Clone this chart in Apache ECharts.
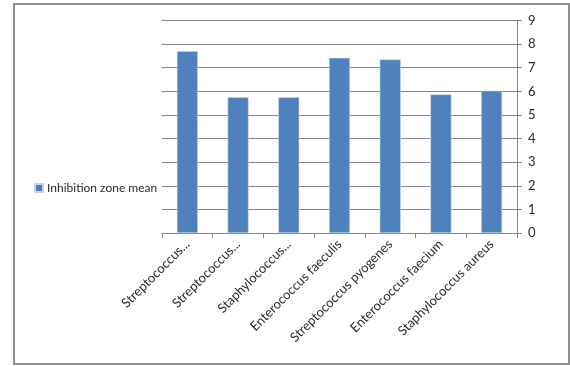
<!DOCTYPE html>
<html>
<head>
<meta charset="utf-8">
<script src="https://cdn.jsdelivr.net/npm/echarts@6/dist/echarts.min.js"></script>
<style>html,body{margin:0;padding:0;background:#fff}#c{width:570px;height:366px}</style>
</head>
<body>
<div id="c"></div>
<script>
const categories = ["Streptococcus...", "Streptococcus...", "Staphylococcus...", "Enterococcus faeculis", "Streptococcus pyogenes", "Enterococcus faecium", "Staphylococcus aureus"];
const seriesName = "Inhibition zone mean";
const values = [7.7, 5.75, 5.75, 7.42, 7.35, 5.87, 6.03];
const yTicks = [0, 9, 1];

const chart = echarts.init(document.getElementById('c'), null, {renderer: 'canvas'});
const font = 'Lato, "Open Sans", sans-serif';
chart.setOption({
  animation: false,
  graphic: [{
    type: 'rect', left: 13, top: 3, z: -1,
    shape: {width: 555, height: 360},
    style: {fill: '#fff', stroke: '#8e8e8e', lineWidth: 2}
  }],
  legend: {
    left: 29, top: 177, orient: 'vertical',
    itemWidth: 8, itemHeight: 8, itemGap: 4,
    icon: 'rect',
    textStyle: {fontFamily: font, fontSize: 12, color: '#2a2a2a', padding: [0,0,0,-1]},
    data: [seriesName]
  },
  grid: {left: 162, right: 53, top: 20.5, bottom: 133, containLabel: false},
  xAxis: {
    type: 'category', data: categories,
    axisLine: {lineStyle: {color: '#868686', width: 1}},
    axisTick: {show: true, length: 5, lineStyle: {color: '#868686'}},
    axisLabel: {rotate: 45, interval: 0, margin: 9, fontFamily: font, fontSize: 13, color: '#2a2a2a'}
  },
  yAxis: {
    type: 'value', position: 'right', min: yTicks[0], max: yTicks[1], interval: yTicks[2],
    axisLine: {show: true, lineStyle: {color: '#868686', width: 1}},
    axisTick: {show: true, length: 5, lineStyle: {color: '#868686'}},
    axisLabel: {margin: 11, fontFamily: font, fontSize: 13, color: '#2a2a2a'},
    splitLine: {lineStyle: {color: '#868686', width: 1}}
  },
  series: [{
    name: seriesName, type: 'bar', data: values, barWidth: 21,
    itemStyle: {color: '#4f81bd', borderColor: '#c5d6ea', borderWidth: 0.6}
  }]
});
</script>
</body>
</html>
